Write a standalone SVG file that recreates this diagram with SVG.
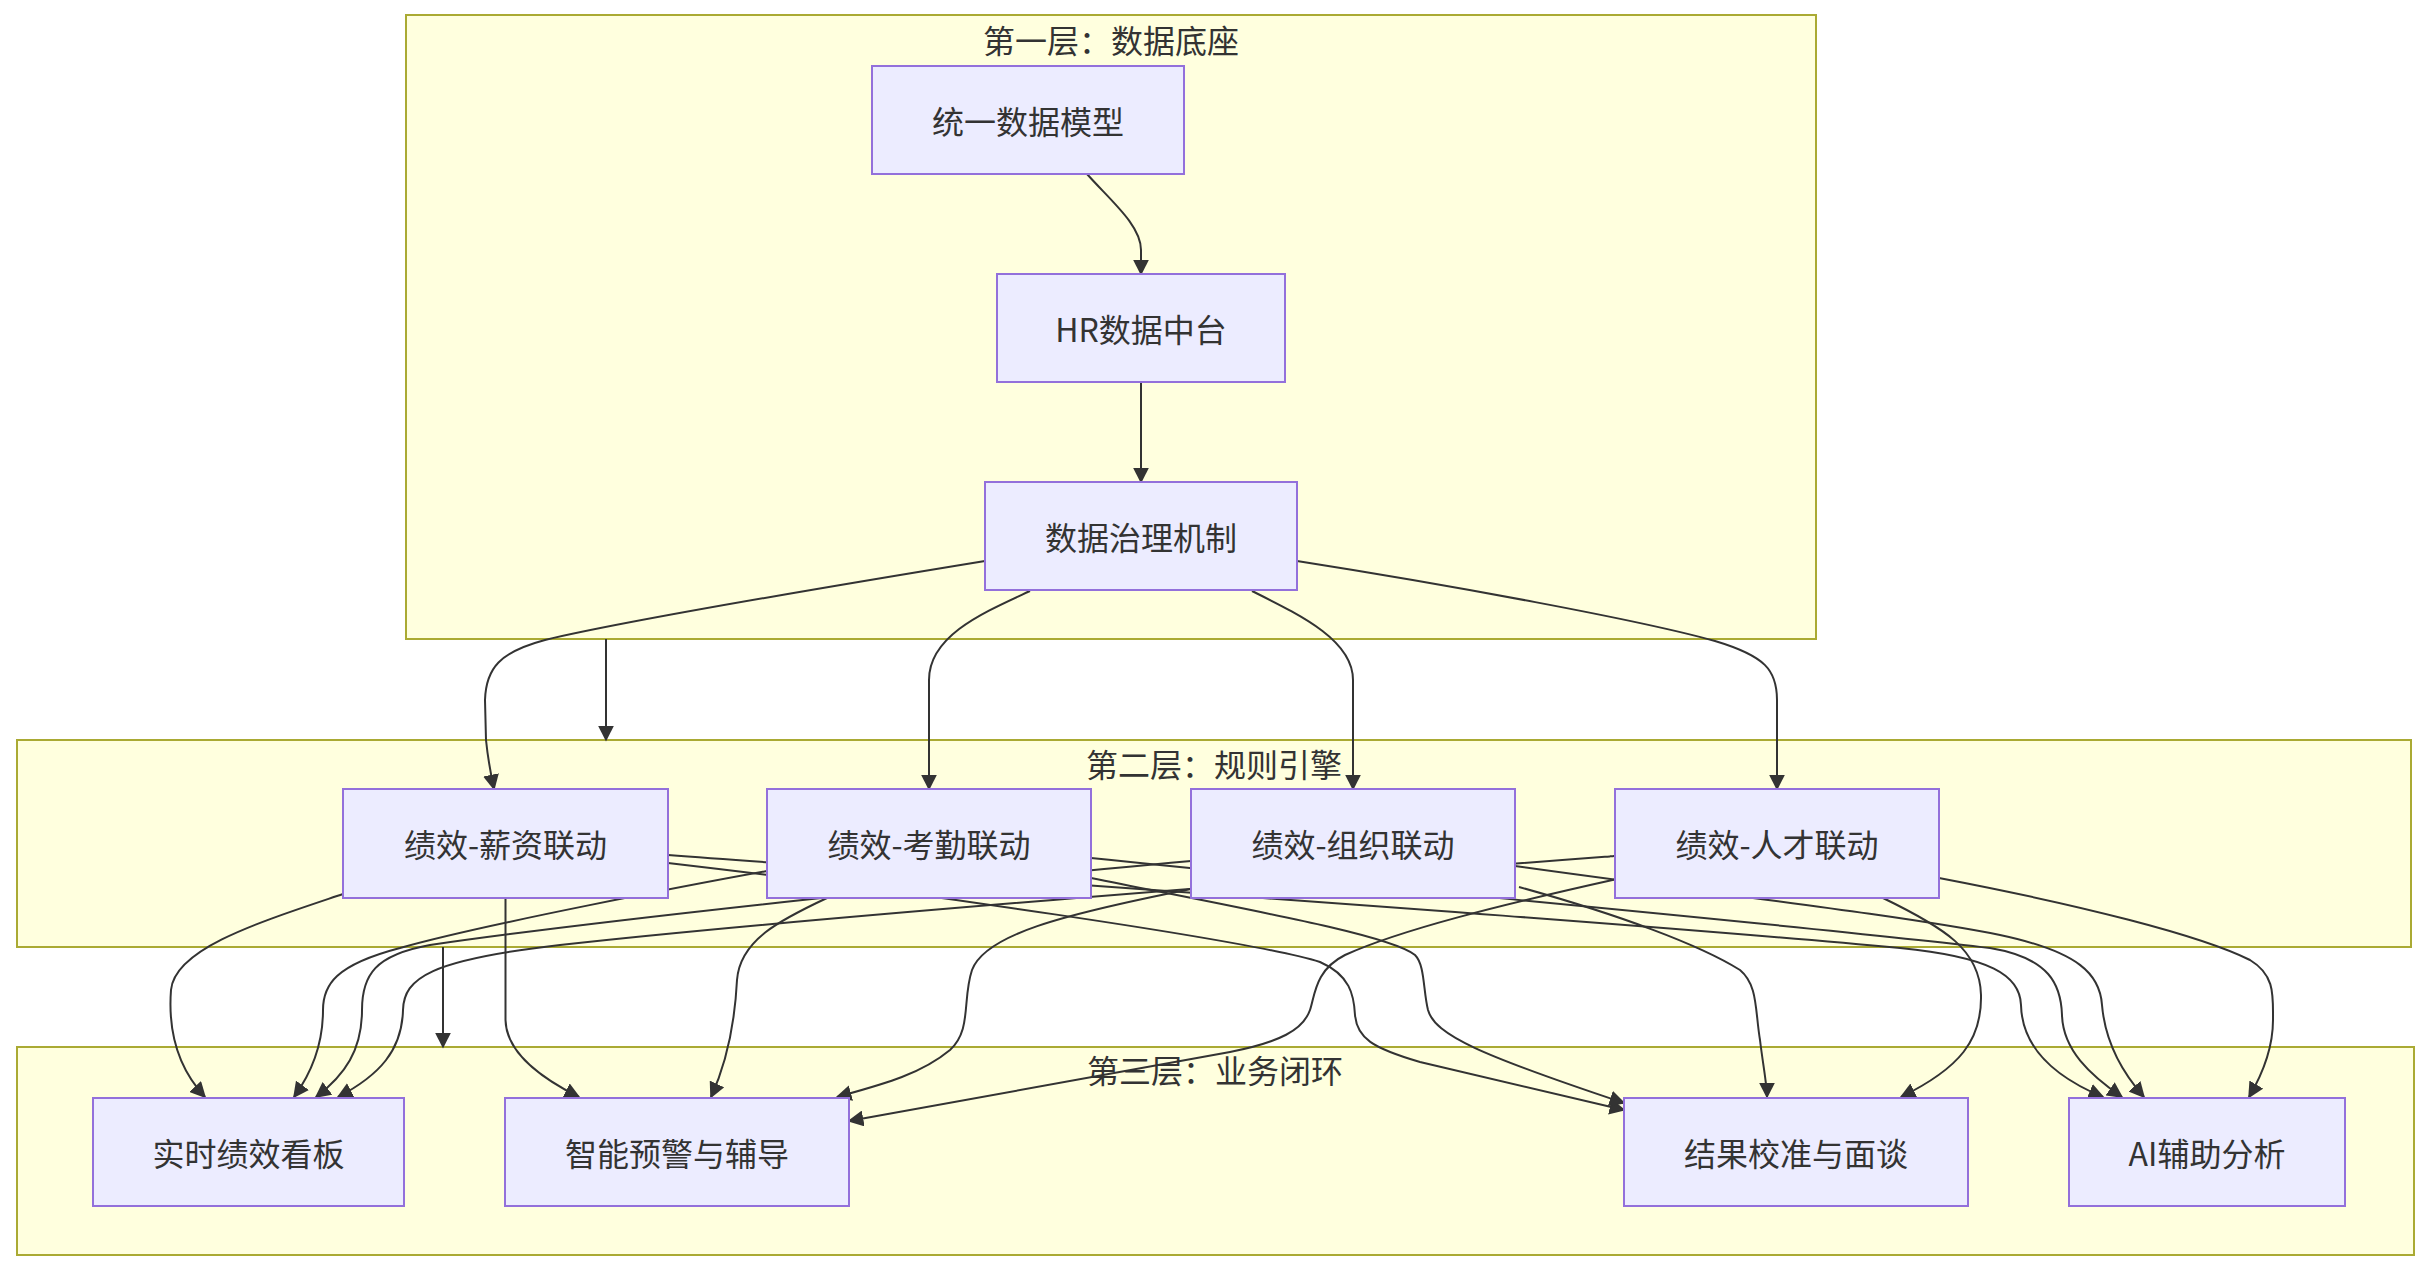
<svg xmlns="http://www.w3.org/2000/svg" width="2430" height="1272" viewBox="0 0 2430 1272">
<defs>
<marker id="arrow" viewBox="0 0 10 10" refX="9" refY="5" markerWidth="16" markerHeight="16" markerUnits="userSpaceOnUse" orient="auto">
<path d="M0,0 L10,5 L0,10 z" fill="#333333"/>
</marker>
<style>
.cluster rect{fill:#ffffde;stroke:#aaaa33;stroke-width:2}
.node rect{fill:#ECECFF;stroke:#9370DB;stroke-width:2}
text{font-family:"Noto Sans CJK SC","Noto Sans",sans-serif;font-size:32px;fill:#333333;text-anchor:middle;dominant-baseline:central}
.edge{fill:none;stroke:#333333;stroke-width:2;marker-end:url(#arrow)}
</style>
</defs>
<rect width="2430" height="1272" fill="#ffffff"/>

<g id="layer1" class="cluster"><rect x="406" y="15" width="1410" height="624"/><text x="1111" y="39">第一层：数据底座</text></g>
<g id="layer2" class="cluster"><rect x="17" y="740" width="2394" height="207"/><text x="1214" y="763">第二层：规则引擎</text></g>
<g id="layer3" class="cluster"><rect x="17" y="1047" width="2397" height="208"/><text x="1215" y="1069">第三层：业务闭环</text></g>

<g id="edges">
<path class="edge" d="M1087,174 C1110,200 1141,225 1141,250 L1141,274"/>
<path class="edge" d="M1141,382 L1141,482"/>
<path class="edge" d="M985,561 C820,588 620,622 545,640 C500,652 486,668 485,700 L486,740 C488,760 491,775 494,789"/>
<path class="edge" d="M1030,591 C985,612 929,635 929,680 L929,789"/>
<path class="edge" d="M1252,591 C1300,615 1353,640 1353,680 L1353,789"/>
<path class="edge" d="M1297,561 C1450,585 1640,620 1715,641 C1765,656 1777,670 1777,700 L1777,789"/>
<path class="edge" d="M606,639 L606,740"/>
<path class="edge" d="M443,947 L443,1047"/>

<path class="edge" d="M343,894 C260,922 175,948 171,990 C168,1030 178,1068 205,1097"/>
<path class="edge" d="M505.5,898 L505.5,1020 C506,1050 535,1075 579,1097"/>
<path class="edge" d="M668,863 C900,890 1250,940 1320,962 C1350,975 1354,995 1355,1015 C1357,1038 1372,1048 1420,1062 L1624,1110"/>
<path class="edge" d="M668,855 C1000,880 1600,920 1900,948 C1990,957 2020,975 2021,1005 C2022,1045 2050,1075 2103,1097"/>

<path class="edge" d="M767,871 C700,883 480,925 400,948 C335,965 323,985 323,1010 C323,1045 310,1075 294,1097"/>
<path class="edge" d="M827,898 C780,920 740,940 737,980 C735,1020 728,1060 711,1097"/>
<path class="edge" d="M1091,878 C1250,910 1390,935 1415,955 C1425,965 1423,990 1428,1010 C1435,1035 1480,1055 1624,1103"/>
<path class="edge" d="M1091,858 C1400,890 1800,925 1990,948 C2050,958 2061,985 2062,1015 C2063,1050 2090,1075 2122,1097"/>

<path class="edge" d="M1191,861 C1000,878 600,920 430,945 C375,955 362,975 362,1010 C362,1050 345,1075 316,1097"/>
<path class="edge" d="M1191,889 C1060,915 985,935 972,970 C962,1000 972,1030 950,1050 C920,1075 880,1085 837,1097"/>
<path class="edge" d="M1519,887 C1620,915 1700,945 1740,970 C1758,985 1755,1010 1760,1040 C1763,1065 1767,1085 1767,1097"/>
<path class="edge" d="M1515,866 C1700,892 1900,915 2000,935 C2080,952 2100,975 2102,1005 C2105,1040 2120,1070 2144,1097"/>

<path class="edge" d="M1615,856 C1300,880 800,918 560,945 C430,960 404,978 403,1010 C402,1050 380,1075 338,1097"/>
<path class="edge" d="M1617,879 C1500,905 1400,930 1345,955 C1315,970 1315,995 1310,1010 C1303,1030 1280,1042 1230,1052 L849,1121"/>
<path class="edge" d="M1883,898 C1945,928 1980,950 1981,995 C1982,1040 1960,1068 1901,1097"/>
<path class="edge" d="M1939,878 C2080,905 2200,935 2250,960 C2275,975 2273,995 2273,1020 C2273,1050 2262,1075 2249,1097"/>
</g>

<g id="n_model" class="node"><rect x="872" y="66" width="312" height="108"/><text x="1028" y="120">统一数据模型</text></g>
<g id="n_hub" class="node"><rect x="997" y="274" width="288" height="108"/><text x="1141" y="328">HR数据中台</text></g>
<g id="n_gov" class="node"><rect x="985" y="482" width="312" height="108"/><text x="1141" y="536">数据治理机制</text></g>

<g id="n_pay" class="node"><rect x="343" y="789" width="325" height="109"/><text x="505.5" y="843">绩效-薪资联动</text></g>
<g id="n_att" class="node"><rect x="767" y="789" width="324" height="109"/><text x="929" y="843">绩效-考勤联动</text></g>
<g id="n_org" class="node"><rect x="1191" y="789" width="324" height="109"/><text x="1353" y="843">绩效-组织联动</text></g>
<g id="n_tal" class="node"><rect x="1615" y="789" width="324" height="109"/><text x="1777" y="843">绩效-人才联动</text></g>

<g id="n_board" class="node"><rect x="93" y="1098" width="311" height="108"/><text x="248.5" y="1152">实时绩效看板</text></g>
<g id="n_warn" class="node"><rect x="505" y="1098" width="344" height="108"/><text x="677" y="1152">智能预警与辅导</text></g>
<g id="n_calib" class="node"><rect x="1624" y="1098" width="344" height="108"/><text x="1796" y="1152">结果校准与面谈</text></g>
<g id="n_ai" class="node"><rect x="2069" y="1098" width="276" height="108"/><text x="2207" y="1152">AI辅助分析</text></g>
</svg>
